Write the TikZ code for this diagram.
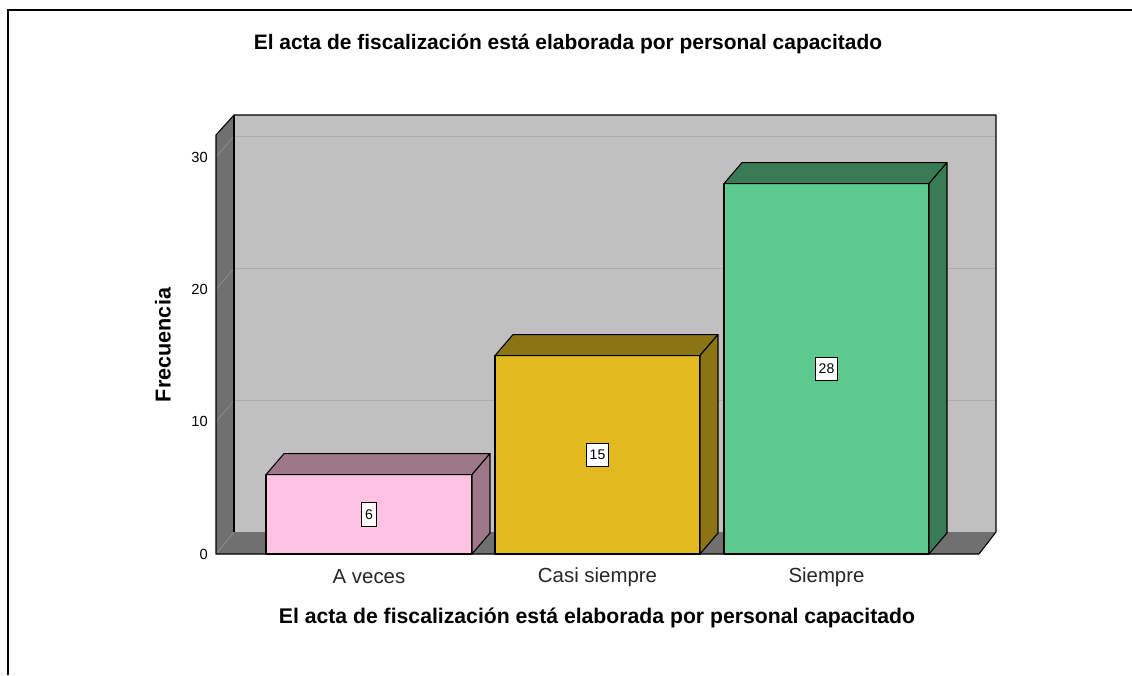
\documentclass[tikz,border=0pt]{standalone}
\usepackage{fontspec}
\setmainfont{Liberation Sans}
\definecolor{wallback}{RGB}{192,192,192}
\definecolor{wallside}{RGB}{112,112,112}
\definecolor{gridgray}{RGB}{172,172,172}
\definecolor{gridside}{RGB}{150,150,150}
\definecolor{pinkfront}{RGB}{255,194,226}
\definecolor{pinkdark}{RGB}{158,120,136}
\definecolor{goldfront}{RGB}{226,186,32}
\definecolor{golddark}{RGB}{139,116,20}
\definecolor{greenfront}{RGB}{94,201,140}
\definecolor{greendark}{RGB}{57,123,84}
\tikzset{
  face/.style={draw=black,line width=0.8pt,line join=round},
  ticklabel/.style={font=\fontsize{11}{12}\selectfont,anchor=east,inner sep=0pt},
  catlabel/.style={font=\fontsize{15.3}{17}\selectfont,text=black!85},
  valbox/.style={draw,fill=white,inner xsep=2.5pt,inner ysep=5pt,line width=0.6pt,font=\fontsize{10.5}{12}\selectfont},
  titletext/.style={font=\bfseries\fontsize{15.7}{18}\selectfont}
}
\begin{document}
\begin{tikzpicture}[x=0.75pt,y=-0.75pt]
\useasboundingbox (0,0) rectangle (1132,675);
%frame
\draw[line width=2.2pt](8,675)--(8,10)--(1132,10);
%back wall, side wall, floor
\fill[wallback](234,115)rectangle(996,532);
\fill[wallside](216,554)--(216,135)--(234,115)--(234,532)--cycle;
\fill[wallside](216,554)--(979,554)--(996,532)--(234,532)--cycle;
%grid lines
\foreach \v in {10,20,30}{
\pgfmathsetmacro\yy{554-13.23*\v}
\draw[gridside](216,\yy)--(234,\yy-21);
\draw[gridgray](234,\yy-21)--(996,\yy-21);
}
\draw[gridside](216,554)--(234,532);
%wall outlines
\draw[face](216,554)--(216,135)--(234,115)--(996,115)--(996,532)--(979,554)--cycle;
\draw[face](234,115)--(234,532);
%tick labels
\foreach \v in {0,10,20,30}{
\pgfmathsetmacro\yy{554-13.23*\v}
\node[ticklabel](t\v)at(208,\yy){\v};
}
%bars
\foreach \xa/\xb/\val/\cf/\cd/\lab in {266/472/6/pinkfront/pinkdark/A veces,
  495/700/15/goldfront/golddark/Casi siempre,
  724/929/28/greenfront/greendark/Siempre}{
\pgfmathsetmacro\yt{554-13.23*\val}
\draw[face,fill=\cf](\xa,554)rectangle(\xb,\yt);
\draw[face,fill=\cd](\xa,\yt)--(\xa+18,\yt-21)--(\xb+18,\yt-21)--(\xb,\yt)--cycle;
\draw[face,fill=\cd](\xb,\yt)--(\xb+18,\yt-21)--(\xb+18,533)--(\xb,554)--cycle;
\node[valbox](v\val)at({(\xa+\xb)/2},{(554+\yt)/2}){\val};
\node[catlabel](c\val)at({(\xa+\xb)/2},577){\lab};
}
%labels
\node[titletext](title)at(568,44){El acta de fiscalización está elaborada por personal capacitado};
\node[titletext,font=\bfseries\fontsize{15.9}{18}\selectfont](xtitle)at(597,618){El acta de fiscalización está elaborada por personal capacitado};
\node[titletext,font=\bfseries\fontsize{16.2}{18}\selectfont,rotate=90](ytitle)at(163,345){Frecuencia};
\end{tikzpicture}
\end{document}
